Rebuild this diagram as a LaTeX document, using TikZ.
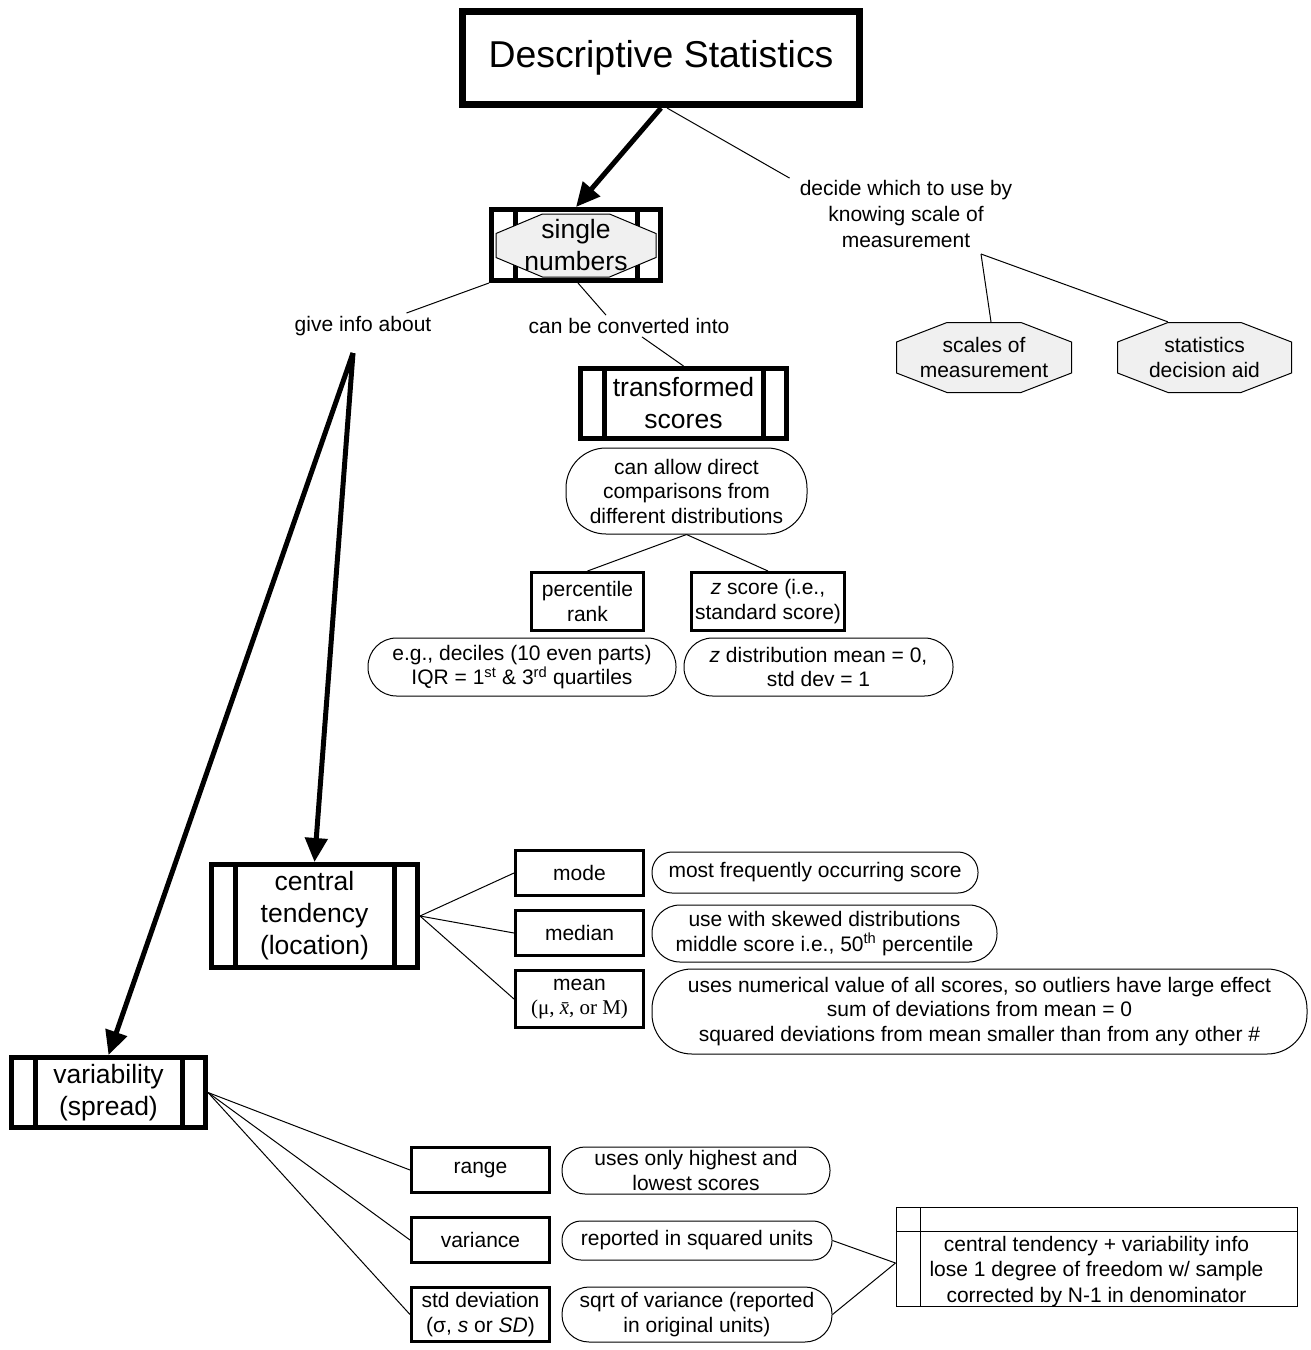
\documentclass[tikz,border=0pt]{standalone}
\usepackage{fontspec}
\setmainfont{Liberation Sans}
\newfontfamily\timesfont{Liberation Serif}
\usetikzlibrary{arrows.meta,calc}
\definecolor{octgray}{HTML}{F0F0F0}

\tikzset{
  every node/.style={align=center, inner sep=0pt},
  txt/.style={font=\fontsize{21}{24.5}\selectfont},
  bigtxt/.style={font=\fontsize{26.5}{32}\selectfont},
  thin/.style={line width=1pt},
  bold arrow/.style={line width=5pt, -{Triangle[length=24pt,width=22pt]}},
  titlebox/.style={draw, line width=7pt, font=\fontsize{37.4}{44}\selectfont},
  smallbox/.style={txt, draw, line width=3pt},
  bubble/.style={txt, draw, line width=1pt, rounded corners=#1},
  procbox/.style={draw, line width=5pt, path picture={
      \draw[line width=5pt]
        ([xshift=23.5pt]path picture bounding box.north west) -- ([xshift=23.5pt]path picture bounding box.south west)
        ([xshift=-23.5pt]path picture bounding box.north east) -- ([xshift=-23.5pt]path picture bounding box.south east);}},
  octnode/.style 2 args={txt, path picture={
      \filldraw[fill=octgray, line width=1pt]
        ([xshift=#1pt, yshift=-0.5pt]path picture bounding box.north west)
        -- ([xshift=-#1pt, yshift=-0.5pt]path picture bounding box.north east)
        -- ([xshift=-0.5pt, yshift=-#2pt]path picture bounding box.north east)
        -- ([xshift=-0.5pt, yshift=#2pt]path picture bounding box.south east)
        -- ([xshift=-#1pt, yshift=0.5pt]path picture bounding box.south east)
        -- ([xshift=#1pt, yshift=0.5pt]path picture bounding box.south west)
        -- ([xshift=0.5pt, yshift=#2pt]path picture bounding box.south west)
        -- ([xshift=0.5pt, yshift=-#2pt]path picture bounding box.north west)
        -- cycle;}},
  infobox/.style={draw, line width=1pt, font=\fontsize{21}{25.5}\selectfont, path picture={
      \draw[line width=1pt]
        ([yshift=-24pt]path picture bounding box.north west) -- ([yshift=-24pt]path picture bounding box.north east)
        ([xshift=24pt]path picture bounding box.north west) -- ([xshift=24pt]path picture bounding box.south west);}}
}

\begin{document}
\begin{tikzpicture}[x=1pt, y=-1pt]
\useasboundingbox (0,0) rectangle (1311,1350);

% top of the map
\node[titlebox, minimum width=397pt, minimum height=93pt] (title) at (661,58) {Descriptive Statistics};

\node[procbox, minimum width=169pt, minimum height=71pt] (sn) at (576,245) {};
\node[octnode={47}{20}, bigtxt, minimum width=161pt, minimum height=64pt] (sno) at (576,245.5) {single\\numbers};

\node[txt, font=\fontsize{21}{26}\selectfont, inner xsep=10pt, inner ysep=2pt] (decide) at (906,214)
  {decide which to use by\\knowing scale of\\measurement};
\coordinate (dv) at (981,254);
\node[octnode={51}{20}, minimum width=176pt, minimum height=71pt] (sm) at (984,357.5) {scales of\\measurement};
\node[octnode={51}{20}, minimum width=175pt, minimum height=71pt] (sd) at (1204.5,357.5) {statistics\\decision aid};

\node[txt, inner ysep=3pt] (give) at (363,326) {give info about};
\node[txt, inner ysep=3pt] (conv) at (629,326) {can be converted into};
\coordinate (gs) at (353,353);

% transformed scores branch
\node[procbox, bigtxt, minimum width=206pt, minimum height=70pt] (tr) at (683.5,403.5) {transformed\\scores};
\node[bubble=40pt, minimum width=241pt, minimum height=86pt] (allow) at (686.5,491)
  {can allow direct\\comparisons from\\different distributions};
\node[smallbox, minimum width=112pt, minimum height=58pt] (pr) at (587.5,601.5) {percentile\\rank};
\node[smallbox, minimum width=153pt, minimum height=58pt] (zs) at (768,601.5) {\textit{z} score (i.e.,\\standard score)};
\node[bubble=28.5pt, minimum width=308pt, minimum height=58pt] (prb) at (522,667)
  {e.g., deciles (10 even parts)\\IQR = 1\textsuperscript{st} \& 3\textsuperscript{rd} quartiles};
\node[bubble=28.5pt, minimum width=269pt, minimum height=58pt] (zsb) at (818.5,667)
  {\textit{z} distribution mean = 0,\\std dev = 1};

% central tendency branch
\node[procbox, bigtxt, minimum width=206pt, minimum height=103pt] (ct) at (314.5,916) {central\\tendency\\(location)};
\node[smallbox, minimum width=128pt, minimum height=45pt] (mode) at (579.5,873) {mode};
\node[smallbox, minimum width=128pt, minimum height=45pt] (median) at (579.5,933) {median};
\node[smallbox, minimum width=128pt, minimum height=57pt] (mean) at (579.5,999)
  {mean\\{\timesfont(μ, \textit{\=x}, or M)}};
\node[bubble=20pt, minimum width=326pt, minimum height=41pt] (modeb) at (815,872.5) {most frequently occurring score};
\node[bubble=28pt, minimum width=345pt, minimum height=57pt] (medianb) at (824.5,933.5)
  {use with skewed distributions\\middle score i.e., 50\textsuperscript{th} percentile};
\node[bubble=40pt, minimum width=655pt, minimum height=85pt] (meanb) at (979.5,1011.5)
  {uses numerical value of all scores, so outliers have large effect\\sum of deviations from mean = 0\\squared deviations from mean smaller than from any other \#};

% variability branch
\node[procbox, bigtxt, minimum width=194pt, minimum height=70pt] (var) at (108.5,1092.5) {variability\\(spread)};
\node[smallbox, minimum width=138pt, minimum height=45pt] (range) at (480.5,1170) {range};
\node[smallbox, minimum width=138pt, minimum height=45pt] (variance) at (480.5,1240) {variance};
\node[smallbox, minimum width=138pt, minimum height=54pt] (stdev) at (480.5,1314.5) {std deviation\\(σ, \textit{s} or \textit{SD})};
\node[bubble=23pt, minimum width=268pt, minimum height=47pt] (rangeb) at (696,1170.5) {uses only highest and\\lowest scores};
\node[bubble=19pt, minimum width=270pt, minimum height=39pt] (varianceb) at (697,1240.5) {reported in squared units};
\node[bubble=27pt, minimum width=270pt, minimum height=55pt] (stdb) at (697,1314.5) {sqrt of variance (reported\\in original units)};
\node[infobox, minimum width=401pt, minimum height=98pt] (info) at (1096.5,1257)
  {\strut\\central tendency + variability info\\lose 1 degree of freedom w/ sample\\corrected by N-1 in denominator};

% connectors
\draw[bold arrow] (title.south) -- (sn.north);
\draw[thin] ([xshift=6pt]title.south) -- (decide.north west);
\draw[thin] (dv) -- ([xshift=7pt]sm.north);
\draw[thin] (dv) -- ([xshift=51pt]sd.north west);
\draw[thin] (sn.south west) -- ([xshift=-25pt]give.north east);
\draw[thin] ([xshift=2pt]sn.south) -- ([xshift=-23pt]conv.north);
\draw[thin] ([xshift=13pt]conv.south) -- (tr.north);
\draw[bold arrow] (gs) -- (ct.north);
\draw[bold arrow] (gs) -- (var.north);
\draw[thin] (allow.south) -- (pr.north);
\draw[thin] (allow.south) -- (zs.north);
\draw[thin] (ct.east) -- (mode.west);
\draw[thin] (ct.east) -- (median.west);
\draw[thin] (ct.east) -- (mean.west);
\draw[thin] (var.east) -- (range.west);
\draw[thin] (var.east) -- (variance.west);
\draw[thin] (var.east) -- (stdev.west);
\draw[thin] (varianceb.east) -- ([yshift=-6pt]info.west);
\draw[thin] (stdb.east) -- ([yshift=-6pt]info.west);
\end{tikzpicture}
\end{document}
